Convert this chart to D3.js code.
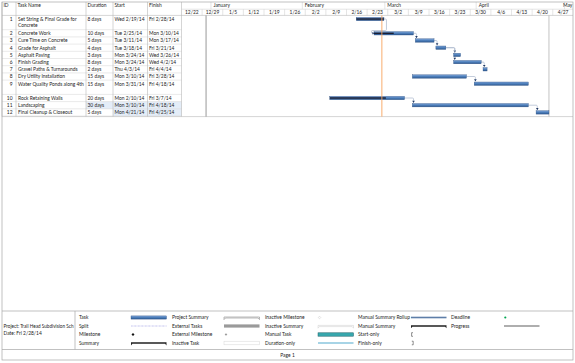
<!DOCTYPE html>
<html>
<head>
<meta charset="utf-8">
<script src="https://cdnjs.cloudflare.com/ajax/libs/d3/7.8.5/d3.min.js"></script>
<style>
body { margin: 0; background: #fff; }
svg text { font-family: Lato, "Open Sans", sans-serif; font-size: 4.9px; fill: #222; }
</style>
</head>
<body>
<div class="vis-gantt"></div>
<script>
// task table
const ids = [1, 2, 3, 4, 5, 6, 7, 8, 9, 10, 11, 12];
const taskNames = [
    "Set String & Final Grade for\nConcrete", "Concrete Work", "Cure Time on Concrete",
    "Grade for Asphalt", "Asphalt Paving", "Finish Grading", "Gravel Paths & Turnarounds",
    "Dry Utility Installation", "Water Quality Ponds along 4th", "Rock Retaining Walls",
    "Landscaping", "Final Cleanup & Closeout"
];
const durations = ["8 days", "10 days", "5 days", "4 days", "3 days", "8 days", "2 days",
    "15 days", "15 days", "20 days", "30 days", "5 days"];
const starts = ["Wed 2/19/14", "Tue 2/25/14", "Tue 3/11/14", "Tue 3/18/14", "Mon 3/24/14",
    "Mon 3/24/14", "Thu 4/3/14", "Mon 3/10/14", "Mon 3/31/14", "Mon 2/10/14",
    "Mon 3/10/14", "Mon 4/21/14"];
const finishes = ["Fri 2/28/14", "Mon 3/10/14", "Mon 3/17/14", "Fri 3/21/14", "Wed 3/26/14",
    "Wed 4/2/14", "Fri 4/4/14", "Fri 3/28/14", "Fri 4/18/14", "Fri 3/7/14",
    "Fri 4/18/14", "Fri 4/25/14"];
const percentDone = [100, 50, 0, 0, 0, 0, 0, 0, 0, 75, 0, 0];
const rowLines = [2, 1, 1, 1, 1, 1, 1, 1, 2, 1, 1, 1];
// [predecessor, successor]
const links = [[1, 2], [2, 3], [3, 4], [4, 5], [4, 6], [6, 7], [8, 9], [10, 11], [11, 12]];
const changedDuration = [11];
const changedDates = [11, 12];
const columns = ["ID", "Task Name", "Duration", "Start", "Finish"];

const timescaleStart = "12/22/13", timescaleEnd = "5/4/14";
const projectStart = "12/30/13", projectFinish = "4/25/14", currentDate = "2/28/14";

const projectTitle = "Project: Trail Head Subdivision Sch";
const projectDate = "Date: Fri 2/28/14";
const legendLabels = [
    ["Task", "Split", "Milestone", "Summary"],
    ["Project Summary", "External Tasks", "External Milestone", "Inactive Task"],
    ["Inactive Milestone", "Inactive Summary", "Manual Task", "Duration-only"],
    ["Manual Summary Rollup", "Manual Summary", "Start-only", "Finish-only"],
    ["Deadline", "Progress"]
];
const pageLabel = "Page 1";

const W = 575, H = 363;
const svg = d3.select('.vis-gantt').append('svg')
    .attr('width', W).attr('height', H);

const parse = d3.utcParse("%m/%d/%y");
const day = s => parse(s.split(" ").pop());
const hours = (d, h) => new Date(d.getTime() + h * 3600e3);

const colX = [2, 16, 86, 113, 147.5, 181.5];
const rightX = 573;
const x = d3.scaleUtc()
    .domain([parse(timescaleStart), parse(timescaleEnd)])
    .range([colX[5], rightX + 0.4]);

const topY = 2, midHead = 9.2, headBottom = 15.4, lineH = 7.2;
const rowTop = [];
let yy = headBottom;
rowLines.forEach(n => { rowTop.push(yy); yy += n * lineH + (n > 1 ? -0.1 : 0); });
const tableBottom = yy + 0.6;
const barY = i => rowTop[i] + lineH / 2;

const grid = "#d4d4d4";

// changed cell highlight
const hl = svg.append("g");
ids.forEach((id, i) => {
    const h = rowLines[i] * lineH;
    if (changedDuration.includes(id))
        hl.append("rect").attr("x", colX[2]).attr("y", rowTop[i]).attr("width", colX[3] - colX[2]).attr("height", h).attr("fill", "#e4edf8");
    if (changedDates.includes(id))
        hl.append("rect").attr("x", colX[3]).attr("y", rowTop[i]).attr("width", colX[5] - colX[3]).attr("height", h).attr("fill", "#e4edf8");
});

// table grid
svg.append("g").selectAll("line").data(rowTop.slice(1).concat([yy])).join("line")
    .attr("x1", colX[0]).attr("x2", colX[5]).attr("y1", d => d).attr("y2", d => d)
    .attr("stroke", grid).attr("stroke-width", 0.5);
svg.append("g").selectAll("line").data(colX).join("line")
    .attr("x1", d => d).attr("x2", d => d).attr("y1", topY).attr("y2", tableBottom)
    .attr("stroke", "#b8b8b8").attr("stroke-width", 0.6);

// table header
svg.append("g").selectAll("text").data(columns).join("text")
    .attr("x", (d, i) => colX[i] + 1.5).attr("y", 6.6)
    .text(d => d);

// table body
const body = svg.append("g");
ids.forEach((id, i) => {
    const y = barY(i) + 1.8;
    body.append("text").attr("x", colX[1] - 3.5).attr("y", y).attr("text-anchor", "end").text(id);
    const t = body.append("text").attr("x", colX[1] + 2).attr("y", y);
    taskNames[i].split("\n").forEach((s, k) => {
        t.append("tspan").attr("x", colX[1] + 2).attr("dy", k ? lineH * 0.86 : 0).text(s);
    });
    body.append("text").attr("x", colX[2] + 1.5).attr("y", y).text(durations[i]);
    body.append("text").attr("x", colX[3] + 1.5).attr("y", y).text(starts[i]);
    body.append("text").attr("x", colX[4] + 1.5).attr("y", y).text(finishes[i]);
});

// timescale header
svg.append("clipPath").attr("id", "gclip")
    .append("rect").attr("x", colX[5]).attr("y", 0).attr("width", rightX - colX[5]).attr("height", H);
const head = svg.append("g").attr("clip-path", "url(#gclip)");
const weeks = d3.utcSunday.range(parse(timescaleStart), parse(timescaleEnd));
head.selectAll(".wk").data(weeks).join("line")
    .attr("x1", d => x(d)).attr("x2", d => x(d)).attr("y1", midHead).attr("y2", headBottom)
    .attr("stroke", grid).attr("stroke-width", 0.6);
head.selectAll(".wkl").data(weeks).join("text")
    .attr("x", d => x(d) + (x(d3.utcDay.offset(d, 7)) - x(d)) / 2).attr("y", 13.9)
    .attr("text-anchor", "middle")
    .text(d3.utcFormat("%-m/%-d"));
const months = d3.utcMonth.range(parse("1/1/14"), parse("6/1/14"));
head.selectAll(".mo").data(months).join("line")
    .attr("x1", d => x(d)).attr("x2", d => x(d)).attr("y1", topY).attr("y2", midHead)
    .attr("stroke", grid).attr("stroke-width", 0.6);
head.selectAll(".mol").data(months).join("text")
    .attr("y", 7.3)
    .text(d3.utcFormat("%B"))
    .attr("x", function(d) {
        const w = this.getComputedTextLength();
        return Math.min(x(d) + 2.5, rightX - w - 0.6);
    });
svg.append("line").attr("x1", colX[5]).attr("x2", rightX).attr("y1", midHead).attr("y2", midHead)
    .attr("stroke", grid).attr("stroke-width", 0.6);
svg.append("line").attr("x1", colX[0]).attr("x2", rightX).attr("y1", headBottom).attr("y2", headBottom)
    .attr("stroke", "#b8b8b8").attr("stroke-width", 0.6);
svg.append("line").attr("x1", colX[0]).attr("x2", rightX).attr("y1", tableBottom).attr("y2", tableBottom)
    .attr("stroke", "#b8b8b8").attr("stroke-width", 0.6);

// project start / finish lines
svg.append("line").attr("x1", x(hours(parse(projectStart), 8))).attr("x2", x(hours(parse(projectStart), 8)))
    .attr("y1", headBottom).attr("y2", tableBottom).attr("stroke", "#8c8c8c").attr("stroke-width", 0.9);
svg.append("line").attr("x1", x(hours(parse(projectFinish), 17))).attr("x2", x(hours(parse(projectFinish), 17)))
    .attr("y1", headBottom).attr("y2", tableBottom).attr("stroke", "#bdbdbd").attr("stroke-width", 0.9);

// bar gradient
const defs = svg.append("defs");
const grad = defs.append("linearGradient").attr("id", "barGrad").attr("x1", 0).attr("x2", 0).attr("y1", 0).attr("y2", 1);
grad.append("stop").attr("offset", "0%").attr("stop-color", "#7ea3d6");
grad.append("stop").attr("offset", "45%").attr("stop-color", "#4f81bd");
grad.append("stop").attr("offset", "100%").attr("stop-color", "#2f5a92");

const bars = ids.map((id, i) => ({
    id: id,
    x0: x(hours(day(starts[i]), 8)),
    x1: x(hours(day(finishes[i]), 17)),
    y: barY(i),
    pct: percentDone[i]
}));
const byId = new Map(bars.map(b => [b.id, b]));

// links
const linkG = svg.append("g");
const arrowC = "#1f3864";
links.forEach(([a, b]) => {
    const p = byId.get(a), s = byId.get(b);
    if (s.x0 >= p.x1 - 0.5) {
        const vx = s.x0 + 1.2;
        const hx = Math.max(vx, p.x1 + 2.5);
        const yEnd = s.y - 3.4;
        linkG.append("path")
            .attr("d", `M${p.x1},${p.y}H${hx - 1}Q${hx},${p.y} ${hx},${p.y + 1}V${yEnd - 1}` +
                (hx !== vx ? `H${vx}V${yEnd}` : ""))
            .attr("fill", "none").attr("stroke", "#a9b6cc").attr("stroke-width", 0.7);
        linkG.append("path")
            .attr("d", `M${vx - 1.3},${yEnd - 1}L${vx + 1.3},${yEnd - 1}L${vx},${yEnd + 1.2}Z`)
            .attr("fill", arrowC);
    } else {
        const hx = p.x1 + 2.5, mid = rowTop[ids.indexOf(b)] + 0.8, lx = s.x0 - 2.5;
        linkG.append("path")
            .attr("d", `M${p.x1},${p.y}H${hx - 1}Q${hx},${p.y} ${hx},${p.y + 1}V${mid - 1}Q${hx},${mid} ${hx - 1},${mid}` +
                `H${lx + 1}Q${lx},${mid} ${lx},${mid + 1}V${s.y - 1}Q${lx},${s.y} ${lx + 1},${s.y}H${s.x0 - 1}`)
            .attr("fill", "none").attr("stroke", "#a9b6cc").attr("stroke-width", 0.7);
        linkG.append("path")
            .attr("d", `M${s.x0 - 1.6},${s.y - 1.2}L${s.x0 - 1.6},${s.y + 1.2}L${s.x0 + 0.4},${s.y}Z`)
            .attr("fill", arrowC);
    }
});

// task bars
const barH = 3.4;
svg.append("g").selectAll("rect").data(bars).join("rect")
    .attr("x", d => d.x0).attr("y", d => d.y - barH / 2)
    .attr("width", d => d.x1 - d.x0).attr("height", barH)
    .attr("fill", "url(#barGrad)").attr("stroke", "#2c4f80").attr("stroke-width", 0.35);
// progress
svg.append("g").selectAll("rect").data(bars.filter(d => d.pct > 0)).join("rect")
    .attr("x", d => d.x0).attr("y", d => d.y - 0.7)
    .attr("width", d => (d.x1 - d.x0) * d.pct / 100).attr("height", 1.4)
    .attr("fill", "#1a1f33");

// current date line
svg.append("line").attr("x1", x(parse(currentDate))).attr("x2", x(parse(currentDate)))
    .attr("y1", headBottom).attr("y2", tableBottom).attr("stroke", "#f7a35c").attr("stroke-width", 0.9);

// outer frame
svg.append("rect").attr("x", 2).attr("y", topY).attr("width", rightX - 2).attr("height", 358)
    .attr("fill", "none").attr("stroke", "#a6a6a6").attr("stroke-width", 0.7);

// footer / legend
const legTop = 311, legBottom = 349.5, legDiv = 75;
const foot = svg.append("g");
[legTop, legBottom].forEach(y => foot.append("line").attr("x1", 2).attr("x2", rightX).attr("y1", y).attr("y2", y)
    .attr("stroke", "#a6a6a6").attr("stroke-width", 0.7));
foot.append("line").attr("x1", legDiv).attr("x2", legDiv).attr("y1", legTop).attr("y2", legBottom)
    .attr("stroke", "#a6a6a6").attr("stroke-width", 0.7);
foot.append("text").attr("x", 3.5).attr("y", 328).attr("textLength", 70).attr("lengthAdjust", "spacingAndGlyphs")
    .text(projectTitle);
foot.append("text").attr("x", 3.5).attr("y", 335).text(projectDate);
foot.append("text").attr("x", (2 + rightX) / 2).attr("y", 356.8).attr("text-anchor", "middle").text(pageLabel);

const legLabelX = [79, 172, 265, 358, 451];
const legSwatchX = [131, 224, 318, 411, 504];
const legRowY = [317.5, 326, 334.5, 343];
const sw = 35.5;
legendLabels.forEach((col, c) => col.forEach((lab, r) => {
    foot.append("text").attr("x", legLabelX[c]).attr("y", legRowY[r] + 1.8).text(lab);
}));

const diamond = (cx, cy, s) => `M${cx},${cy - s}L${cx + s},${cy}L${cx},${cy + s}L${cx - s},${cy}Z`;
const summaryPath = (x0, w, cy, h) =>
    `M${x0},${cy - h / 2}H${x0 + w}V${cy + h / 2 + 1.6}L${x0 + w - 1.4},${cy + h / 2}H${x0 + 1.4}L${x0},${cy + h / 2 + 1.6}Z`;
const L = legSwatchX, Y = legRowY;
// column 1
foot.append("rect").attr("x", L[0]).attr("y", Y[0] - 1.6).attr("width", sw).attr("height", 3.2)
    .attr("fill", "url(#barGrad)").attr("stroke", "#2c4f80").attr("stroke-width", 0.35);
foot.append("line").attr("x1", L[0]).attr("x2", L[0] + sw).attr("y1", Y[1]).attr("y2", Y[1])
    .attr("stroke", "#a4a4e6").attr("stroke-width", 0.8).attr("stroke-dasharray", "0.8,0.6");
foot.append("path").attr("d", diamond(L[0] + 2, Y[2], 1.5)).attr("fill", "#111");
foot.append("path").attr("d", summaryPath(L[0], sw, Y[3], 1.6)).attr("fill", "#222");
// column 2
foot.append("path").attr("d", summaryPath(L[1], sw, Y[0], 1)).attr("fill", "#fff").attr("stroke", "#777").attr("stroke-width", 0.5);
foot.append("rect").attr("x", L[1]).attr("y", Y[1] - 1.6).attr("width", sw).attr("height", 3.2).attr("fill", "#9a9a9a");
foot.append("path").attr("d", diamond(L[1] + 2, Y[2], 1.3)).attr("fill", "#9a9a9a");
foot.append("rect").attr("x", L[1]).attr("y", Y[3] - 1.8).attr("width", sw).attr("height", 3.6)
    .attr("fill", "#fff").attr("stroke", "#d6d6d6").attr("stroke-width", 0.5);
// column 3
foot.append("path").attr("d", diamond(L[2] + 1.5, Y[0], 1.3)).attr("fill", "#fff").attr("stroke", "#bbb").attr("stroke-width", 0.4);
foot.append("path").attr("d", summaryPath(L[2], sw, Y[1], 1.2)).attr("fill", "#fafafa").attr("stroke", "#c4c4c4").attr("stroke-width", 0.4);
foot.append("rect").attr("x", L[2]).attr("y", Y[2] - 1.7).attr("width", sw).attr("height", 3.4)
    .attr("fill", "#37a7ad").attr("stroke", "#1d5f66").attr("stroke-width", 0.5);
foot.append("rect").attr("x", L[2]).attr("y", Y[3] - 1).attr("width", sw).attr("height", 2).attr("fill", "#a7d4e6");
// column 4
foot.append("rect").attr("x", L[3]).attr("y", Y[0] - 0.8).attr("width", sw).attr("height", 1.6).attr("fill", "#5e7ea8");
foot.append("path").attr("d", summaryPath(L[3], sw, Y[1], 1.4)).attr("fill", "#222");
foot.append("path").attr("d", `M${L[3] + 2},${Y[2] - 1.8}H${L[3] + 0.6}V${Y[2] + 1.8}H${L[3] + 2}`)
    .attr("fill", "none").attr("stroke", "#222").attr("stroke-width", 0.5);
foot.append("path").attr("d", `M${L[3] + 0.8},${Y[3] - 1.8}H${L[3] + 2.2}V${Y[3] + 1.8}H${L[3] + 0.8}`)
    .attr("fill", "none").attr("stroke", "#222").attr("stroke-width", 0.5);
// column 5
foot.append("circle").attr("cx", L[4] + 1.3).attr("cy", Y[0]).attr("r", 1.1).attr("fill", "#00a650");
foot.append("line").attr("x1", L[4]).attr("x2", L[4] + sw).attr("y1", Y[1]).attr("y2", Y[1])
    .attr("stroke", "#5f5f5f").attr("stroke-width", 1.1);
</script>
</body>
</html>
